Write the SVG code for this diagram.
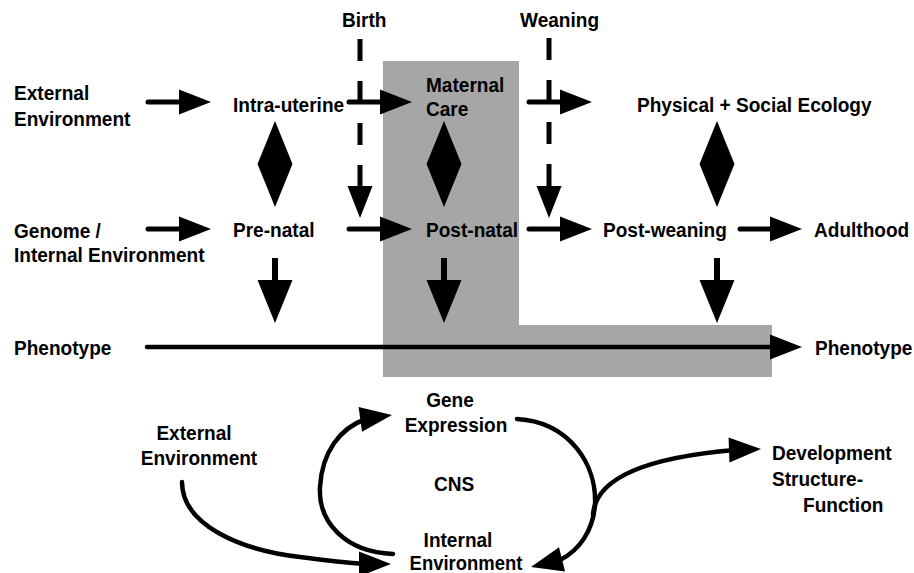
<svg xmlns="http://www.w3.org/2000/svg" xmlns:xlink="http://www.w3.org/1999/xlink" width="914" height="573" viewBox="0 0 914 573">
<style>
  text { font-family: "Liberation Sans", Arial, sans-serif; font-weight: bold; font-size: 20.5px; fill: #000; }
  .mid { text-anchor: middle; }
  .ln { stroke: #000; stroke-width: 5; fill: none; stroke-linecap: round; }
  .thin { stroke: #000; stroke-width: 4.5; fill: none; stroke-linecap: round; }
  .dash { stroke: #000; stroke-width: 5; fill: none; stroke-dasharray: 22 20; }
  .hd { fill: #000; }
</style>
<defs>
  <path id="ah" d="M0,0 L-32,-12.5 L-32,12.5 Z"/>
  <path id="ahb" d="M0,0 L-43,-17.5 L-43,17.5 Z"/>
  <path id="dia" d="M0,-43 L17.5,0 L0,43 L-17.5,0 Z"/>
</defs>
<rect width="914" height="573" fill="#fff"/>
<polygon id="maternal-zone" points="383,61 519,61 519,325 772,325 772,377 383,377" fill="#a6a6a6"/>

<g id="connectors">
  <line class="ln" x1="148" y1="102" x2="182" y2="102"/><use href="#ah" class="hd" transform="translate(211,102)"/>
  <line class="ln" x1="349" y1="102" x2="384" y2="102"/><use href="#ah" class="hd" transform="translate(412,102)"/>
  <line class="ln" x1="529" y1="102" x2="564" y2="102"/><use href="#ah" class="hd" transform="translate(592,102)"/>
  <line class="ln" x1="148" y1="229" x2="182" y2="229"/><use href="#ah" class="hd" transform="translate(211,229)"/>
  <line class="ln" x1="349" y1="229" x2="384" y2="229"/><use href="#ah" class="hd" transform="translate(412,229)"/>
  <line class="ln" x1="529" y1="229" x2="564" y2="229"/><use href="#ah" class="hd" transform="translate(592,229)"/>
  <line class="ln" x1="740" y1="229" x2="775" y2="229"/><use href="#ah" class="hd" transform="translate(802,229)"/>
  <line class="dash" x1="360" y1="39" x2="360" y2="187"/><use href="#ah" class="hd" transform="translate(360,218) rotate(90)"/>
  <line class="dash" x1="549" y1="38" x2="549" y2="186"/><use href="#ah" class="hd" transform="translate(549,218) rotate(90)"/>
  <use href="#dia" class="hd" transform="translate(275,164)"/>
  <use href="#dia" class="hd" transform="translate(444,164)"/>
  <use href="#dia" class="hd" transform="translate(717,164)"/>
  <line class="ln" x1="275" y1="258" x2="275" y2="285" style="stroke-width:6;stroke-linecap:butt"/><use href="#ahb" class="hd" transform="translate(275,323) rotate(90)"/>
  <line class="ln" x1="444" y1="258" x2="444" y2="285" style="stroke-width:6;stroke-linecap:butt"/><use href="#ahb" class="hd" transform="translate(444,323) rotate(90)"/>
  <line class="ln" x1="717" y1="258" x2="717" y2="285" style="stroke-width:6;stroke-linecap:butt"/><use href="#ahb" class="hd" transform="translate(717,323) rotate(90)"/>
  <line class="thin" x1="147" y1="347" x2="775" y2="347"/><use href="#ah" class="hd" transform="translate(802,347)"/>
  <path class="thin" d="M393 554 C345 552 318 522 320 487 C322 452 340 428 366 419"/>
  <use href="#ah" class="hd" transform="translate(392,415) rotate(-8)"/>
  <path class="thin" d="M182 482 C182 525 240 550 300 557 C330 561 350 563 366 564"/>
  <use href="#ah" class="hd" transform="translate(391,564)"/>
  <path class="thin" d="M517 419 C570 422 597 465 595 505 C593 530 580 550 560 560"/>
  <use href="#ah" class="hd" transform="translate(531,567) rotate(166)"/>
  <path class="thin" d="M593 515 C595 480 640 458 735 450"/>
  <use href="#ah" class="hd" transform="translate(761,449) rotate(-2)"/>
</g>

<g id="n-external"><text transform="translate(14 100) scale(0.93 1)">External</text><text transform="translate(14 126) scale(0.93 1)">Environment</text></g>
<g id="n-genome"><text transform="translate(14 238) scale(0.93 1)">Genome /</text><text transform="translate(14 262) scale(0.93 1)">Internal Environment</text></g>
<g id="n-intra"><text transform="translate(233 112) scale(0.93 1)">Intra-uterine</text></g>
<g id="n-prenatal"><text transform="translate(233 237) scale(0.93 1)">Pre-natal</text></g>
<g id="n-birth"><text transform="translate(342 27) scale(0.93 1)">Birth</text></g>
<g id="n-weaning"><text transform="translate(520 27) scale(0.93 1)">Weaning</text></g>
<g id="n-maternal"><text transform="translate(426 92) scale(0.93 1)">Maternal</text><text transform="translate(426 116) scale(0.93 1)">Care</text></g>
<g id="n-postnatal"><text transform="translate(426 237) scale(0.93 1)">Post-natal</text></g>
<g id="n-ecology"><text transform="translate(637 112) scale(0.93 1)">Physical + Social Ecology</text></g>
<g id="n-postweaning"><text transform="translate(603 237) scale(0.93 1)">Post-weaning</text></g>
<g id="n-adulthood"><text transform="translate(814 237) scale(0.93 1)">Adulthood</text></g>
<g id="n-phenotype-l"><text transform="translate(14 355) scale(0.93 1)">Phenotype</text></g>
<g id="n-phenotype-r"><text transform="translate(815 355) scale(0.93 1)">Phenotype</text></g>
<g id="n-gene"><text class="mid" transform="translate(450 407) scale(0.93 1)">Gene</text><text class="mid" transform="translate(456 432) scale(0.93 1)">Expression</text></g>
<g id="n-cns"><text class="mid" transform="translate(454 491) scale(0.93 1)">CNS</text></g>
<g id="n-internal"><text class="mid" transform="translate(458 547) scale(0.93 1)">Internal</text><text class="mid" transform="translate(466 570) scale(0.9 1)">Environment</text></g>
<g id="n-external2"><text class="mid" transform="translate(194 440) scale(0.93 1)">External</text><text class="mid" transform="translate(199 465) scale(0.93 1)">Environment</text></g>
<g id="n-development"><text transform="translate(772 460) scale(0.93 1)">Development</text><text transform="translate(772 486) scale(0.93 1)">Structure-</text><text transform="translate(803 512) scale(0.93 1)">Function</text></g>
</svg>
